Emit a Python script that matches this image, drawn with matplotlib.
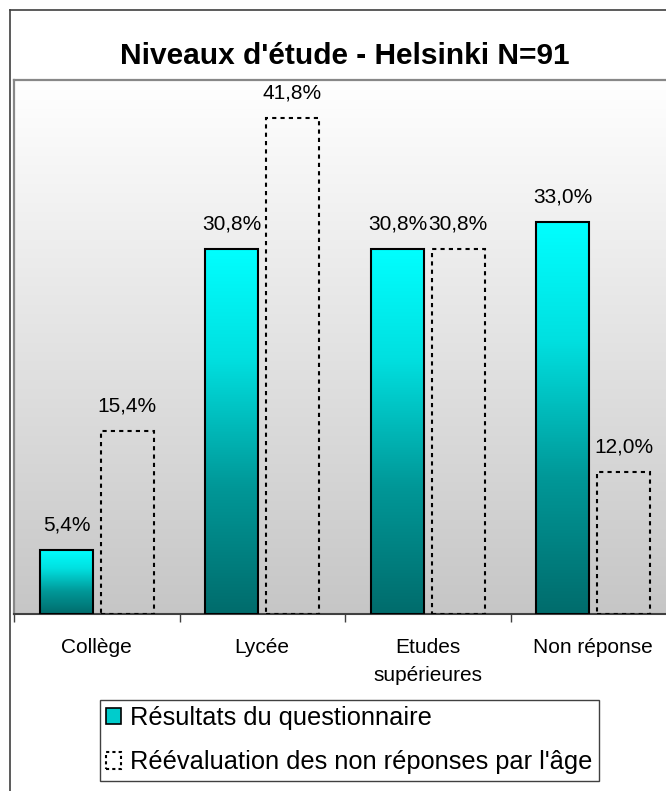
import numpy as np
import matplotlib
matplotlib.use('Agg')
import matplotlib.pyplot as plt
from matplotlib.colors import LinearSegmentedColormap
from matplotlib.patches import Patch
from matplotlib.lines import Line2D

plt.rcParams['font.family'] = ['Liberation Sans', 'DejaVu Sans']
plt.rcParams['image.composite_image'] = False

# data
categories = ['Collège', 'Lycée', 'Etudes\nsupérieures', 'Non réponse']
questionnaire = [5.4, 30.8, 30.8, 33.0]
reevaluation = [15.4, 41.8, 30.8, 12.0]
series_names = ['Résultats du questionnaire', 'Réévaluation des non réponses par l\'âge']

W, H = 666, 791
fig = plt.figure(figsize=(W / 100, H / 100), dpi=100)
pos = [14 / W, 1 - 614 / H, 662 / W, 534 / H]

# background gradient on its own axes, white -> grey
bgax = fig.add_axes(pos, zorder=0)
bg = LinearSegmentedColormap.from_list('bg', ['#c6c6c6', '#ffffff'])
bgax.imshow(np.linspace(0, 1, 256).reshape(-1, 1), origin='lower', aspect='auto',
            cmap=bg, extent=[0, 1, 0, 1])
bgax.set_axis_off()

# plot area (extends past the right edge like the original crop)
ax = fig.add_axes(pos, zorder=1)
ax.patch.set_alpha(0)

x = np.arange(len(categories))
w = 0.32
off = 0.183

bar_cmap = LinearSegmentedColormap.from_list(
    'bar', [(0, '#006c6c'), (0.35, '#009898'), (0.7, '#00e0e0'), (1, '#00ffff')])

bars1 = ax.bar(x - off, questionnaire, w, facecolor='none', edgecolor='black',
               linewidth=1.5, zorder=4, label=series_names[0])
for b in bars1:
    x0, h = b.get_x(), b.get_height()
    im = ax.imshow(np.linspace(0, 1, 256).reshape(-1, 1), extent=[x0, x0 + w, 0, h],
                   origin='lower', aspect='auto', cmap=bar_cmap, zorder=3)
    im.set_clip_path(b)

bars2 = ax.bar(x + off, reevaluation, w, facecolor='none', edgecolor='black',
               linewidth=1.5, linestyle=(0, (2, 2)), zorder=4, label=series_names[1])

ax.set_xlim(-0.5, 3.5)
ax.set_ylim(0, 45)

def fmt(v):
    return f'{v:.1f}%'.replace('.', ',')

for xs, vals in ((x - off, questionnaire), (x + off, reevaluation)):
    for xi, v in zip(xs, vals):
        ax.annotate(fmt(v), (xi, v), xytext=(0, 18), textcoords='offset points',
                    ha='center', va='center', fontsize=15, color='black', zorder=5)

ax.set_yticks([])
ax.set_xticks(x)
ax.set_xticklabels(categories, fontsize=15, linespacing=1.6)
ax.tick_params(axis='x', which='major', length=0, pad=17)
ax.set_xticks(np.arange(-0.5, 4, 1), minor=True)
ax.tick_params(axis='x', which='minor', length=6, width=1, color='#404040', direction='out')

ax.spines['right'].set_visible(False)
for s in ('top', 'left'):
    ax.spines[s].set_color('#888888')
    ax.spines[s].set_linewidth(1.6)
ax.spines['bottom'].set_color('#404040')
ax.spines['bottom'].set_linewidth(1.5)

# outer chart frame (left and top edges visible in crop)
fig.add_artist(Line2D([10 / W, 10 / W], [0, 1 - 10 / H], transform=fig.transFigure,
                      color='#404040', linewidth=1.2))
fig.add_artist(Line2D([10 / W, 1], [1 - 10 / H, 1 - 10 / H], transform=fig.transFigure,
                      color='#404040', linewidth=1.2))

fig.text(345 / W, 1 - 56 / H, "Niveaux d'étude - Helsinki N=91", ha='center', va='center',
         fontsize=21.5, fontweight='bold')

handles = [Patch(facecolor='#00cccc', edgecolor='black', linewidth=1.2),
           Patch(facecolor='none', edgecolor='black', linewidth=1.5, linestyle=(0, (1.5, 1.5)))]
leg = fig.legend(handles, series_names, loc='upper left', bbox_to_anchor=(100 / W, 1 - 700 / H),
                 borderaxespad=0, fontsize=18.3, frameon=True, fancybox=False, framealpha=1,
                 edgecolor='#404040', handlelength=0.6, handleheight=0.6, handletextpad=0.35,
                 borderpad=0.24, labelspacing=0.8)
leg.get_frame().set_linewidth(1)

fig.savefig('out.png', dpi=100)
